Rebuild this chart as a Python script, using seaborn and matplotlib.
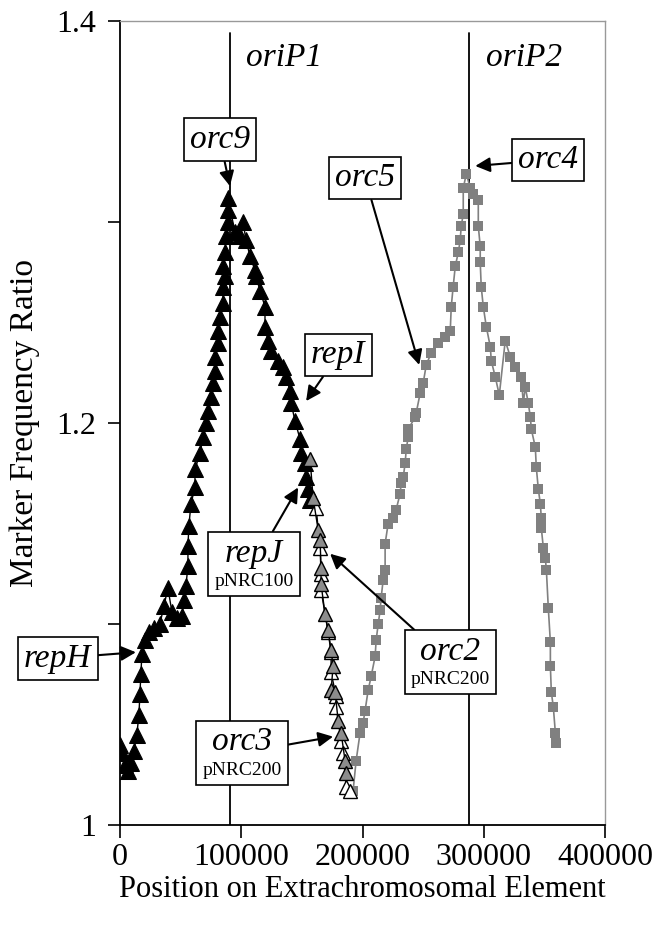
import seaborn as sns
import matplotlib.pyplot as plt
import pandas as pd
from matplotlib.offsetbox import AnnotationBbox, TextArea, VPacker

# pNRC100 (black filled triangles)
pos_100 = [0, 1650, 4100, 6600, 9100, 11550, 14000, 15700, 16500, 17300, 18150, 20600,
           23900, 28000, 33000, 36300, 39600, 42900, 47000, 51150, 52800, 54450, 56100,
           56100, 56900, 58600, 61900, 61900, 66000, 68500, 71000, 72600, 75100, 76700,
           78400, 78400, 80900, 80900, 82500, 85000, 85000, 86600, 85000, 86600, 87500,
           89100, 89100, 89100, 94900, 99000, 101500, 104000, 107300, 111400, 112200,
           115500, 119600, 119600, 122100, 124600, 130400, 134500, 137000, 140300, 141100,
           144400, 148500, 149300, 152600, 153500, 155100, 156800]
val_100 = [1.040, 1.036, 1.030, 1.027, 1.031, 1.037, 1.045, 1.055, 1.065, 1.075, 1.085, 1.092,
           1.096, 1.098, 1.100, 1.109, 1.118, 1.106, 1.103, 1.104, 1.112, 1.119, 1.129,
           1.139, 1.149, 1.160, 1.168, 1.177, 1.185, 1.193, 1.200, 1.206, 1.213, 1.220,
           1.226, 1.233, 1.240, 1.246, 1.253, 1.260, 1.268, 1.273, 1.278, 1.285, 1.293,
           1.300, 1.306, 1.312, 1.295, 1.293, 1.300, 1.291, 1.283, 1.276, 1.273,
           1.266, 1.258, 1.248, 1.241, 1.236, 1.231, 1.228, 1.223, 1.216, 1.210,
           1.201, 1.192, 1.185, 1.180, 1.173, 1.167, 1.162]

# pNRC200 (open triangles, grey and white fills)
pos_200a = [156800, 159200, 163400, 165000, 165800, 165800, 169100, 171600, 174100, 175700,
            174100, 177400, 179900, 182300, 185600, 186500]
val_200a = [1.182, 1.163, 1.147, 1.142, 1.128, 1.120, 1.105, 1.097, 1.087, 1.079,
            1.067, 1.066, 1.052, 1.046, 1.032, 1.026]
pos_200b = [161700, 165000, 165800, 165800, 171600, 174100, 174100, 178200, 178200, 182300,
            184000, 186500, 189800]
val_200b = [1.158, 1.138, 1.125, 1.117, 1.096, 1.086, 1.076, 1.064, 1.059, 1.042,
            1.036, 1.019, 1.017]

# pNRC200 second element (grey squares)
pos_sq = [192200, 194700, 198000, 200500, 202100, 204600, 207100, 210400, 211200, 212900,
          214500, 215300, 217000, 218600, 218600, 221100, 225200, 227700, 231000, 231800,
          233500, 235100, 236000, 237600, 237600, 243400, 244200, 247500, 250000, 252500,
          256600, 262400, 268100, 272300, 273100, 274700, 276400, 278900, 280500, 281300,
          283000, 283000, 285500, 288800, 291200, 295400, 295400, 297000, 297000, 297800,
          299500, 302000, 305300, 306100, 309400, 312700, 317600, 321800, 325900, 330800,
          332500, 334100, 336600, 338300, 339100, 342400, 343200, 344900, 346500, 347300,
          347300, 349000, 350600, 351500, 353100, 354800, 354800, 355600, 357200, 358900,
          359700]
val_sq = [1.017, 1.032, 1.046, 1.051, 1.057, 1.067, 1.074, 1.084, 1.092, 1.100,
          1.107, 1.113, 1.122, 1.127, 1.140, 1.150, 1.153, 1.157, 1.165, 1.170,
          1.173, 1.180, 1.187, 1.193, 1.197, 1.203, 1.205, 1.215, 1.220, 1.229,
          1.235, 1.240, 1.243, 1.246, 1.258, 1.268, 1.278, 1.285, 1.291, 1.298,
          1.304, 1.317, 1.324, 1.317, 1.314, 1.311, 1.298, 1.288, 1.280, 1.268,
          1.258, 1.248, 1.238, 1.231, 1.223, 1.214, 1.241, 1.233, 1.228, 1.223,
          1.210, 1.218, 1.210, 1.203, 1.197, 1.188, 1.178, 1.167, 1.160, 1.153,
          1.148, 1.138, 1.133, 1.127, 1.108, 1.091, 1.079, 1.066, 1.059, 1.046,
          1.041]

ori_pos = [90700, 287800]
ori_names = ['oriP1', 'oriP2']

sns.set_theme(style='ticks')
plt.rcParams['font.family'] = ['Liberation Serif', 'DejaVu Serif']
plt.rcParams['text.color'] = 'black'
plt.rcParams['axes.labelcolor'] = 'black'
plt.rcParams['xtick.color'] = 'black'
plt.rcParams['ytick.color'] = 'black'

fig = plt.figure(figsize=(6.55, 9.26), dpi=100)
ax = fig.add_axes([0.183, 0.109, 0.741, 0.868])

for p in ori_pos:
    ax.axvline(p, ymin=0, ymax=0.985, color='black', lw=1.3, zorder=1)

sns.lineplot(x=pos_sq, y=val_sq, ax=ax, sort=False, estimator=None, color='#808080',
             lw=1.2, marker='s', markersize=7.5, markeredgewidth=0, zorder=2)
sns.lineplot(x=pos_100, y=val_100, ax=ax, sort=False, estimator=None, color='black',
             lw=1, marker='^', markersize=11, markeredgecolor='black',
             markerfacecolor='black', zorder=3)
sns.lineplot(x=pos_200b, y=val_200b, ax=ax, sort=False, estimator=None, color='black',
             lw=1, marker='^', markersize=10, markeredgecolor='black',
             markerfacecolor='white', markeredgewidth=1, zorder=4)
sns.lineplot(x=pos_200a, y=val_200a, ax=ax, sort=False, estimator=None, color='black',
             lw=1, marker='^', markersize=10, markeredgecolor='black',
             markerfacecolor='#8c8c8c', markeredgewidth=1, zorder=4)

ax.set_xlim(0, 400000)
ax.set_ylim(1, 1.4)
ax.set_xticks([0, 100000, 200000, 300000, 400000])
ax.set_xticklabels(['0', '100000', '200000', '300000', '400000'])
ax.set_yticks([1, 1.2, 1.4])
ax.set_yticklabels(['1', '1.2', '1.4'])
ax.set_yticks([1.1, 1.3], minor=True)
ax.tick_params(axis='both', which='both', direction='out', length=9, width=1.2,
               color='black', labelcolor='black', labelsize=23, pad=8)
ax.tick_params(axis='x', pad=4)
for s in ['left', 'bottom']:
    ax.spines[s].set_color('black')
    ax.spines[s].set_linewidth(1.3)
for s in ['top', 'right']:
    ax.spines[s].set_color('#999999')
    ax.spines[s].set_linewidth(1)

ax.set_xlabel('Position on Extrachromosomal Element', fontsize=22, labelpad=2, color='black')
ax.set_ylabel('Marker Frequency Ratio', fontsize=24, labelpad=12, color='black')

for p, name in zip(ori_pos, ori_names):
    ax.text(p + 45000, 1.382, name, fontsize=24, style='italic', ha='center', va='center')


def label(main, sub, xy, xybox):
    parts = [TextArea(main, textprops=dict(fontsize=24, style='italic', color='black',
                                           family='Liberation Serif'))]
    if sub:
        parts.append(TextArea(sub, textprops=dict(fontsize=14, color='black',
                                                  family='Liberation Serif')))
    box = VPacker(children=parts, align='center', pad=0, sep=3)
    ab = AnnotationBbox(box, xy, xybox=xybox, xycoords='data', boxcoords='data',
                        frameon=True, pad=0.4, annotation_clip=False,
                        bboxprops=dict(edgecolor='black', facecolor='white', lw=1.2),
                        arrowprops=dict(arrowstyle='-|>', color='black', lw=1.5,
                                        mutation_scale=16, shrinkA=0, shrinkB=0))
    ab.set_zorder(6)
    ax.add_artist(ab)


label('orc9', None, (90700, 1.318), (82500, 1.341))
label('orc5', None, (246700, 1.229), (202100, 1.322))
label('orc4', None, (292900, 1.328), (353100, 1.331))
label('repI', None, (153500, 1.211), (179900, 1.234))
label('repJ', 'pNRC100', (146900, 1.168), (110600, 1.130))
label('orc2', 'pNRC200', (173300, 1.135), (272300, 1.081))
label('orc3', 'pNRC200', (175700, 1.044), (100700, 1.036))
label('repH', None, (13200, 1.086), (-51200, 1.083))

fig.savefig('out.png', dpi=100)
